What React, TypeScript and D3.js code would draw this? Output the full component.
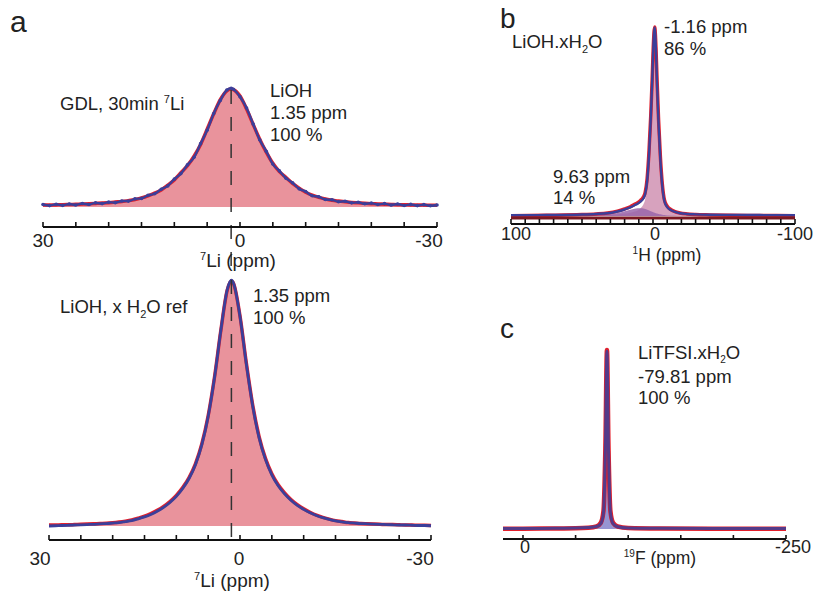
import * as d3 from "d3";

const FONT = "'Liberation Sans', Arial, Helvetica, sans-serif";
const RED = "#e3202c";
const BLUE = "#3b3f9a";
const PINK = "#e9939c";

// ---- panel a: 7Li spectra (ppm grid shared by both) ----
const ppmA = [
  30, 29, 28, 27, 26, 25, 24, 23, 22, 21, 20, 19, 18, 17, 16, 15, 14, 13, 12, 11, 10, 9, 8, 7, 6, 5, 4, 3, 2, 1.35, 1,
  0, -1, -2, -3, -4, -5, -6, -7, -8, -9, -10, -11, -12, -13, -14, -15, -16, -17, -18, -19, -20, -21, -22, -23, -24,
  -25, -26, -27, -28, -29, -30,
];
// GDL, 30 min: fit and measured
const fitA1 = [
  0.016, 0.017, 0.018, 0.019, 0.021, 0.023, 0.025, 0.027, 0.03, 0.033, 0.037, 0.042, 0.047, 0.054, 0.063, 0.077, 0.095,
  0.117, 0.145, 0.185, 0.23, 0.29, 0.35, 0.43, 0.53, 0.66, 0.79, 0.91, 0.985, 1.0, 0.995, 0.94, 0.83, 0.7, 0.575, 0.465,
  0.37, 0.3, 0.25, 0.2, 0.16, 0.125, 0.1, 0.082, 0.068, 0.057, 0.05, 0.044, 0.039, 0.035, 0.031, 0.028, 0.026, 0.024,
  0.022, 0.02, 0.019, 0.018, 0.017, 0.016, 0.015, 0.014,
];
const dataA1 = [
  0.021, 0.012, 0.023, 0.014, 0.025, 0.017, 0.03, 0.021, 0.035, 0.029, 0.041, 0.037, 0.051, 0.05, 0.069, 0.073, 0.099,
  0.112, 0.15, 0.179, 0.236, 0.283, 0.357, 0.421, 0.537, 0.65, 0.793, 0.903, 0.992, 1.006, 0.998, 0.934, 0.839, 0.703,
  0.569, 0.472, 0.364, 0.306, 0.244, 0.206, 0.154, 0.131, 0.095, 0.087, 0.063, 0.061, 0.045, 0.049, 0.035, 0.04, 0.027,
  0.033, 0.021, 0.029, 0.017, 0.025, 0.013, 0.022, 0.012, 0.02, 0.01, 0.017,
];
// LiOH, x H2O reference: fit and measured
const fitA2 = [
  0.004, 0.004, 0.005, 0.005, 0.006, 0.007, 0.008, 0.009, 0.01, 0.011, 0.013, 0.016, 0.02, 0.025, 0.032, 0.04, 0.051,
  0.064, 0.08, 0.1, 0.125, 0.157, 0.198, 0.254, 0.335, 0.45, 0.608, 0.8, 0.963, 1.0, 0.989, 0.857, 0.664, 0.493, 0.365,
  0.276, 0.213, 0.168, 0.135, 0.108, 0.087, 0.07, 0.056, 0.044, 0.035, 0.028, 0.022, 0.018, 0.014, 0.012, 0.01, 0.009,
  0.008, 0.007, 0.006, 0.006, 0.005, 0.004, 0.004, 0.003, 0.003, 0.002,
];
const dataA2 = [
  0.0, 0.001, 0.002, 0.003, 0.004, 0.005, 0.006, 0.007, 0.009, 0.01, 0.012, 0.014, 0.018, 0.022, 0.029, 0.037, 0.047,
  0.06, 0.076, 0.096, 0.121, 0.153, 0.194, 0.25, 0.331, 0.447, 0.606, 0.8, 0.965, 1.003, 0.99, 0.855, 0.66, 0.489, 0.36,
  0.272, 0.209, 0.164, 0.131, 0.105, 0.084, 0.068, 0.054, 0.043, 0.034, 0.027, 0.021, 0.017, 0.014, 0.012, 0.01, 0.009,
  0.008, 0.007, 0.006, 0.005, 0.004, 0.004, 0.003, 0.002, 0.002, 0.001,
];
const ticksA = [30, 25, 20, 15, 10, 5, 0, -5, -10, -15, -20, -25, -30];
const labelsA = [30, 0, -30];

// ---- panel b: 1H spectrum with two components ----
const ppmB = [
  100, 75, 50, 40, 32, 25, 20, 16, 13, 10.8, 8.8, 6.8, 5.5, 4.1, 2.8, 1.6, 0.6, -0.2, -1.16, -2.1, -2.9, -3.9, -5.2, -6.5,
  -8.1, -10, -12.5, -15, -19, -24, -30, -40, -55, -75, -100,
];
const mainB = [
  0.002, 0.003, 0.0045, 0.0058, 0.007, 0.0095, 0.013, 0.017, 0.024, 0.03, 0.042, 0.062, 0.09, 0.17, 0.32, 0.51, 0.71,
  0.89, 1.0, 0.89, 0.71, 0.51, 0.31, 0.17, 0.08, 0.05, 0.033, 0.024, 0.016, 0.011, 0.008, 0.006, 0.004, 0.003, 0.002,
];
const broadB = [
  0, 0.001, 0.003, 0.005, 0.009, 0.016, 0.025, 0.033, 0.039, 0.042, 0.042, 0.04, 0.037, 0.034, 0.03, 0.026, 0.023, 0.02,
  0.017, 0.015, 0.013, 0.011, 0.009, 0.007, 0.005, 0.003, 0.002, 0.001, 0, 0, 0, 0, 0, 0, 0,
];
const fitB = [
  0.002, 0.004, 0.0075, 0.011, 0.016, 0.026, 0.038, 0.05, 0.063, 0.072, 0.084, 0.102, 0.127, 0.204, 0.35, 0.536, 0.733,
  0.91, 1.017, 0.905, 0.723, 0.521, 0.319, 0.177, 0.085, 0.053, 0.035, 0.025, 0.016, 0.011, 0.008, 0.006, 0.004, 0.003,
  0.002,
];
const dataB = [
  0.004, 0.005, 0.008, 0.011, 0.015, 0.024, 0.035, 0.046, 0.058, 0.066, 0.077, 0.094, 0.118, 0.19, 0.33, 0.52, 0.72, 0.9,
  1.015, 0.89, 0.7, 0.5, 0.3, 0.165, 0.078, 0.048, 0.032, 0.023, 0.015, 0.011, 0.009, 0.007, 0.006, 0.005, 0.004,
];
const ticksB = [100, 90, 80, 70, 60, 50, 40, 30, 20, 10, 0, -10, -20, -30, -40, -50, -60, -70, -80, -90, -100];
const labelsB = [100, 0, -100];

// ---- panel c: 19F spectrum ----
const ppmC = [19, 0, -30, -50, -62, -70, -74, -76.5, -78.3, -79.81, -81.3, -83.1, -85.6, -90, -100, -130, -180, -250];
const fitC = [0.002, 0.002, 0.003, 0.004, 0.007, 0.015, 0.035, 0.1, 0.45, 1.0, 0.45, 0.1, 0.035, 0.014, 0.006, 0.003, 0.002, 0.002];
const dataC = [0.003, 0.003, 0.004, 0.005, 0.008, 0.014, 0.03, 0.09, 0.44, 0.995, 0.44, 0.09, 0.03, 0.013, 0.006, 0.004, 0.003, 0.003];
const ticksC = [0, -50, -100, -150, -200, -250];
const labelsC = [0, -250];

type Scale = d3.ScaleLinear<number, number>;

function linePath(ppm: number[], vals: number[], x: Scale, y: Scale) {
  const pts = ppm.map((p, i) => [x(p), y(vals[i])] as [number, number]);
  return d3.line().curve(d3.curveMonotoneX)(pts) || "";
}

function areaPath(ppm: number[], vals: number[], x: Scale, y: Scale) {
  const pts = ppm.map((p, i) => [x(p), y(vals[i])] as [number, number]);
  return (
    d3
      .area<[number, number]>()
      .x((d) => d[0])
      .y0(y(0))
      .y1((d) => d[1])
      .curve(d3.curveMonotoneX)(pts) || ""
  );
}

// axis line with upward ticks; label offsets are per-label nudges in px
function Axis({ x, y, ticks, labels, shifts, tickLen, labelY, fs, width = 2.2 }: any) {
  const [d0, d1] = x.domain();
  return (
    <g>
      <line x1={x(d0)} x2={x(d1)} y1={y} y2={y} stroke="#111" strokeWidth={width} />
      {ticks.map((t: number) => (
        <line key={t} x1={x(t)} x2={x(t)} y1={y} y2={y - tickLen} stroke="#111" strokeWidth={1.6} />
      ))}
      {labels.map((l: number, i: number) => (
        <text key={l} x={x(l) + (shifts ? shifts[i] : 0)} y={labelY} fontSize={fs} textAnchor="middle" fill="#222">
          {l}
        </text>
      ))}
    </g>
  );
}

export default function App() {
  // panel a top
  const xA1 = d3.scaleLinear().domain([30, -30]).range([43, 437]);
  const yA1 = d3.scaleLinear().domain([0, 1]).range([207, 89]);
  // panel a bottom
  const xA2 = d3.scaleLinear().domain([30, -30]).range([49, 431]);
  const yA2 = d3.scaleLinear().domain([0, 1]).range([526, 281]);
  // panel b
  const xB = d3.scaleLinear().domain([100, -100]).range([511, 795]);
  const yB = d3.scaleLinear().domain([0, 1.017]).range([216, 27]);
  // panel c
  const xC = d3.scaleLinear().domain([19, -250]).range([503, 786]);
  const yC = d3.scaleLinear().domain([0, 1]).range([529, 350]);

  const peakA = 1.35;
  const fsA = 18.5;

  return (
    <svg
      width={816}
      height={592}
      style={{ position: "absolute", left: 0, top: 0, background: "#fff" }}
      fontFamily={FONT}
    >
      {/* ---------- panel a top ---------- */}
      <path d={areaPath(ppmA, fitA1, xA1, yA1)} fill={PINK} />
      <path d={linePath(ppmA, fitA1, xA1, yA1)} fill="none" stroke={RED} strokeWidth={3.5} />
      <path d={linePath(ppmA, dataA1, xA1, yA1)} fill="none" stroke={BLUE} strokeWidth={2.4} />
      {ppmA.map((p, i) => (
        <circle key={i} cx={xA1(p)} cy={yA1(dataA1[i])} r={1.8} fill={BLUE} />
      ))}
      <line x1={xA1(peakA)} x2={xA1(peakA)} y1={90} y2={280} stroke="#333" strokeWidth={1.5} strokeDasharray="14,13" />
      <Axis x={xA1} y={227} ticks={ticksA} labels={labelsA} shifts={[0, 0, -8]} tickLen={5} labelY={247} fs={19} />
      <text x={238} y={267} fontSize={19} textAnchor="middle" fill="#222">
        <tspan fontSize={11} dy={-7}>7</tspan>
        <tspan dy={7}>Li (ppm)</tspan>
      </text>
      <text x={10} y={32} fontSize={30} fill="#222">a</text>
      <text x={60} y={110} fontSize={fsA} fill="#222">
        GDL, 30min <tspan fontSize={11} dy={-7}>7</tspan>
        <tspan dy={7}>Li</tspan>
      </text>
      <text x={270} y={97} fontSize={fsA} fill="#222">LiOH</text>
      <text x={270} y={119} fontSize={fsA} fill="#222">1.35 ppm</text>
      <text x={270} y={141} fontSize={fsA} fill="#222">100 %</text>

      {/* ---------- panel a bottom ---------- */}
      <path d={areaPath(ppmA, fitA2, xA2, yA2)} fill={PINK} />
      <path d={linePath(ppmA, fitA2, xA2, yA2)} fill="none" stroke={RED} strokeWidth={3.5} />
      <path d={linePath(ppmA, dataA2, xA2, yA2)} fill="none" stroke={BLUE} strokeWidth={2.8} />
      <line x1={xA2(peakA)} x2={xA2(peakA)} y1={280} y2={548} stroke="#333" strokeWidth={1.5} strokeDasharray="14,13" />
      <Axis x={xA2} y={540} ticks={ticksA} labels={labelsA} shifts={[-9, -1, -11]} tickLen={5} labelY={565} fs={19} />
      <text x={232} y={587} fontSize={19} textAnchor="middle" fill="#222">
        <tspan fontSize={11} dy={-7}>7</tspan>
        <tspan dy={7}>Li (ppm)</tspan>
      </text>
      <text x={60} y={313} fontSize={fsA} fill="#222">
        LiOH, x H<tspan fontSize={11} dy={5}>2</tspan>
        <tspan dy={-5}>O ref</tspan>
      </text>
      <text x={253} y={302} fontSize={fsA} fill="#222">1.35 ppm</text>
      <text x={253} y={324} fontSize={fsA} fill="#222">100 %</text>

      {/* ---------- panel b ---------- */}
      <path d={areaPath(ppmB, mainB, xB, yB)} fill="#d7a2be" />
      <path d={areaPath(ppmB, broadB, xB, yB)} fill="#9a66aa" fillOpacity={0.85} />
      <path d={linePath(ppmB, fitB, xB, yB)} fill="none" stroke={RED} strokeWidth={3.5} />
      <path d={linePath(ppmB, dataB, xB, yB)} fill="none" stroke={BLUE} strokeWidth={2.4} />
      <line x1={xB(100)} x2={xB(-100)} y1={218} y2={218} stroke="#7a1822" strokeWidth={3} />
      <Axis x={xB} y={224} ticks={ticksB} labels={labelsB} shifts={[5, 2, 0]} tickLen={5} labelY={240} fs={18} />
      <text x={667} y={261} fontSize={17.5} textAnchor="middle" fill="#222">
        <tspan fontSize={10} dy={-7}>1</tspan>
        <tspan dy={7}>H (ppm)</tspan>
      </text>
      <text x={500} y={28} fontSize={28} fill="#222">b</text>
      <text x={512} y={48} fontSize={fsA} fill="#222">
        LiOH.xH<tspan fontSize={11} dy={5}>2</tspan>
        <tspan dy={-5}>O</tspan>
      </text>
      <text x={664} y={33} fontSize={fsA} fill="#222">-1.16 ppm</text>
      <text x={664} y={55} fontSize={fsA} fill="#222">86 %</text>
      <text x={553} y={183} fontSize={fsA} fill="#222">9.63 ppm</text>
      <text x={553} y={204} fontSize={fsA} fill="#222">14 %</text>

      {/* ---------- panel c ---------- */}
      <path d={areaPath(ppmC, dataC, xC, yC)} fill="#6a68c0" fillOpacity={0.7} />
      <path d={linePath(ppmC, fitC, xC, yC)} fill="none" stroke={RED} strokeWidth={4.5} />
      <path d={linePath(ppmC, dataC, xC, yC)} fill="none" stroke={BLUE} strokeWidth={3} strokeOpacity={0.85} />
      <Axis x={xC} y={539} ticks={ticksC} labels={labelsC} shifts={[2, 7]} tickLen={4} labelY={553} fs={18} />
      <text x={660} y={564} fontSize={17.5} textAnchor="middle" fill="#222">
        <tspan fontSize={10} dy={-7}>19</tspan>
        <tspan dy={7}>F (ppm)</tspan>
      </text>
      <text x={500} y={338} fontSize={28} fill="#222">c</text>
      <text x={638} y={359} fontSize={fsA} fill="#222">
        LiTFSI.xH<tspan fontSize={10} dy={3.5}>2</tspan>
        <tspan dy={-3.5}>O</tspan>
      </text>
      <text x={638} y={383} fontSize={fsA} fill="#222">-79.81 ppm</text>
      <text x={638} y={404} fontSize={fsA} fill="#222">100 %</text>
    </svg>
  );
}
